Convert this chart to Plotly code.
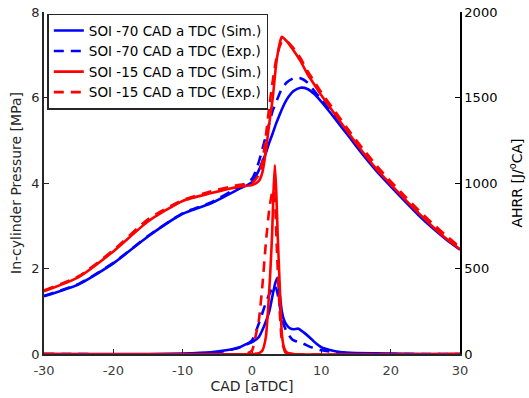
import plotly.graph_objects as go

# ---------------- data ----------------
cad_p = [-30, -25, -20, -15, -10, -6, -2, 0, 1, 1.5, 2, 2.5, 3, 3.5, 4, 4.3, 5, 6, 7, 8, 9, 10,
         12, 14, 16, 18, 20, 22, 24, 26, 28, 30]
p_sim_70 = [1.35, 1.63, 2.12, 2.75, 3.28, 3.52, 3.85, 4.02, 4.3, 4.5, 4.7, 4.95, 5.17, 5.4, 5.6, 5.72, 5.95,
            6.15, 6.23, 6.2, 6.08, 5.9, 5.5, 5.08, 4.66, 4.27, 3.92, 3.58, 3.25, 2.95, 2.68, 2.44]
p_exp_70 = [1.36, 1.64, 2.13, 2.76, 3.29, 3.54, 3.9, 4.1, 4.5, 4.8, 5.1, 5.4, 5.7, 5.9, 6.1, 6.2, 6.35,
            6.45, 6.45, 6.35, 6.15, 5.95, 5.55, 5.12, 4.7, 4.3, 3.95, 3.62, 3.3, 3.0, 2.72, 2.48]
p_sim_15 = [1.47, 1.8, 2.4, 3.1, 3.58, 3.76, 3.91, 3.95, 4.05, 4.25, 4.75, 5.4, 6.0, 6.8, 7.27, 7.42, 7.32,
            7.1, 6.85, 6.55, 6.3, 6.05, 5.6, 5.15, 4.72, 4.32, 3.97, 3.63, 3.3, 2.99, 2.7, 2.45]
p_exp_15 = [1.49, 1.82, 2.43, 3.15, 3.6, 3.8, 3.95, 4.0, 4.2, 4.5, 5.1, 5.8, 6.4, 6.9, 7.2, 7.3, 7.32,
            7.15, 6.92, 6.62, 6.37, 6.12, 5.67, 5.22, 4.8, 4.4, 4.04, 3.7, 3.37, 3.06, 2.77, 2.5]

cad_h70s = [-30, -15, -10, -6, -4, -2, -1, 0, 1, 1.5, 2, 2.5, 3, 3.4, 3.7, 4, 4.3, 4.6, 5, 5.5, 6,
            6.7, 7.5, 8.4, 9.3, 10.2, 12.7, 15, 20, 25, 30]
hrr_sim_70 = [0, 0, 3, 10, 20, 35, 55, 70, 100, 140, 190, 250, 350, 420, 445, 350, 250, 200, 170, 150,
              145, 148, 125, 94, 60, 35, 12, 6, 2, 0, 0]
cad_h70e = [-30, -8, -5, -3, -1, 0, 0.5, 1, 1.5, 2, 2.5, 3, 3.3, 3.6, 4, 4.5, 5, 5.8, 6.5, 7.4, 8.5,
            9.8, 12, 15, 20, 30]
hrr_exp_70 = [0, 0, 10, 25, 50, 80, 125, 180, 240, 300, 350, 390, 400, 370, 280, 180, 130, 85, 72, 60,
              40, 23, 10, 3, 0, 0]
cad_h15s = [-30, 0, 1, 1.5, 2, 2.3, 2.6, 2.9, 3.1, 3.3, 3.5, 3.7, 4, 4.3, 4.6, 5, 6, 30]
hrr_sim_15 = [0, 0, 5, 20, 100, 250, 450, 700, 950, 1105, 950, 700, 400, 120, 40, 10, 0, 0]
cad_h15e = [-30, -1, 0, 0.5, 1, 1.5, 2, 2.5, 3, 3.3, 3.6, 4, 4.3, 4.8, 5.5, 30]
hrr_exp_15 = [0, 0, 20, 100, 200, 400, 650, 850, 960, 900, 600, 250, 80, 10, 0, 0]

names = ["SOI -70 CAD a TDC (Sim.)", "SOI -70 CAD a TDC (Exp.)",
         "SOI -15 CAD a TDC (Sim.)", "SOI -15 CAD a TDC (Exp.)"]

x_ticks = [-30, -20, -10, 0, 10, 20, 30]
x_labels = ["-30", "-20", "-10", "0", "10", "20", "30"]
p_ticks = [0, 2, 4, 6, 8]
hrr_ticks = [0, 500, 1000, 1500, 2000]

# ---------------- figure ----------------
BLUE, RED = "#0000FF", "#FF0000"
W = 2.6
DASH = "10px,7px"
FONT = "DejaVu Sans"

fig = go.Figure()
series = [
    (names[0], BLUE, "solid", cad_p, p_sim_70, cad_h70s, hrr_sim_70),
    (names[1], BLUE, DASH, cad_p, p_exp_70, cad_h70e, hrr_exp_70),
    (names[2], RED, "solid", cad_p, p_sim_15, cad_h15s, hrr_sim_15),
    (names[3], RED, DASH, cad_p, p_exp_15, cad_h15e, hrr_exp_15),
]
for name, col, dash, xp, yp, xh, yh in series:
    fig.add_trace(go.Scatter(x=xp, y=yp, mode="lines", name=name, legendgroup=name,
                             line=dict(color=col, width=W, dash=dash, shape="spline", smoothing=0.6)))
for name, col, dash, xp, yp, xh, yh in series:
    fig.add_trace(go.Scatter(x=xh, y=yh, mode="lines", name=name, legendgroup=name, showlegend=False,
                             yaxis="y2",
                             line=dict(color=col, width=W, dash=dash, shape="spline", smoothing=0.5)))

axcol = "#262626"
fig.update_layout(
    width=529, height=398,
    margin=dict(l=44, r=69, t=12, b=44),
    paper_bgcolor="white", plot_bgcolor="white",
    font=dict(family=FONT, size=13, color=axcol),
    showlegend=True,
    legend=dict(x=0.008, y=0.995, xanchor="left", yanchor="top",
                bgcolor="white", bordercolor="#262626", borderwidth=1.5,
                font=dict(family=FONT, size=13.5, color="black"),
                tracegroupgap=0, itemwidth=30),
    xaxis=dict(range=[-30, 30], tickmode="array", tickvals=x_ticks, ticktext=x_labels,
               ticks="inside", ticklen=5, tickcolor=axcol, showline=True, linecolor=axcol,
               linewidth=1.5, showgrid=False, zeroline=False, mirror=False, ticklabelstandoff=4,
               automargin=False, layer="below traces",
               tickfont=dict(size=13, color="#404040"),
               title=dict(text="CAD [aTDC]", font=dict(size=14, color=axcol), standoff=2)),
    yaxis=dict(range=[0, 8], tickmode="array", tickvals=p_ticks,
               ticks="inside", ticklen=5, tickcolor=axcol, showline=True, linecolor=axcol,
               linewidth=1.5, showgrid=False, zeroline=False, automargin=False, layer="below traces",
               tickfont=dict(size=13, color=axcol),
               title=dict(text="In-cylinder Pressure [MPa]", font=dict(size=14, color=axcol), standoff=6)),
    yaxis2=dict(range=[0, 2000], tickmode="array", tickvals=hrr_ticks, overlaying="y", side="right",
                ticks="inside", ticklen=5, tickcolor="black", showline=True, linecolor="black",
                linewidth=1.5, showgrid=False, zeroline=False, automargin=False,
                tickfont=dict(size=13, color="black"),
                title=dict(text="AHRR [J/<sup>o</sup>CA]", font=dict(size=14, color="black"), standoff=16)),
)

fig.write_html("out.html")
